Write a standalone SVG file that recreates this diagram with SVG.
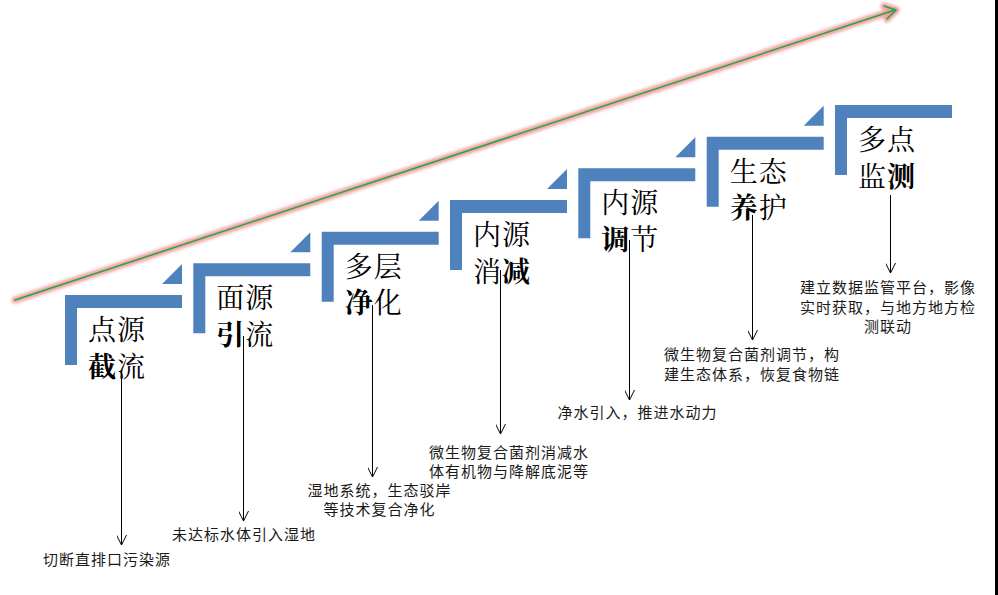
<svg xmlns="http://www.w3.org/2000/svg" xmlns:xlink="http://www.w3.org/1999/xlink" width="998" height="595" viewBox="0 0 998 595">
<style>
.step{fill:#4F81BD}
.big{font-family:"Noto Serif CJK SC","Noto Sans CJK SC",serif;font-size:28px;fill:#000;letter-spacing:1px}
.big .b{font-weight:bold}
.desc{font-family:"Noto Sans CJK SC","Microsoft YaHei",sans-serif;font-size:15px;letter-spacing:1px;fill:#1a1a1a}
.conn{stroke:#000;stroke-width:1;fill:none}
.glow{stroke:#F08C8C;stroke-width:7;fill:none;opacity:0.8;stroke-linecap:round;stroke-linejoin:round}
.green{stroke:#1FA84F;stroke-width:1.5;fill:none;stroke-linecap:round;stroke-linejoin:round}
</style>
<defs>
<filter id="blur" x="-5%" y="-50%" width="110%" height="200%"><feGaussianBlur stdDeviation="1.8"/></filter>
<path id="corner" d="M0,0 H117 V13 H12 V70 H0 Z"/>
<path id="tri" d="M97,-11 H117 V-31 Z"/>
<marker id="ah" viewBox="0 0 10 10" refX="10" refY="5" markerWidth="10" markerHeight="10" markerUnits="userSpaceOnUse" orient="auto">
<path d="M0,0 L10,5 L0,10" fill="none" stroke="#000" stroke-width="1"/>
</marker>
</defs>
<rect width="998" height="595" fill="#fff"/>
<rect x="995" y="0" width="3" height="595" fill="#000"/>

<g id="trend">
<g filter="url(#blur)">
<line class="glow" x1="15" y1="300" x2="895" y2="10"/>
<polyline class="glow" points="884,6 896,10 887,19"/>
</g>
<line class="green" x1="15" y1="300" x2="895" y2="10"/>
<polyline class="green" points="884,6 896,10 887,19"/>
</g>

<g id="step1" transform="translate(65,295)">
<use xlink:href="#corner" class="step"/><use xlink:href="#tri" class="step"/>
<text class="big" x="23" y="45">点源</text>
<text class="big" x="23" y="81.5"><tspan class="b">截</tspan>流</text>
</g>
<g id="step2" transform="translate(193.3,263.3)">
<use xlink:href="#corner" class="step"/><use xlink:href="#tri" class="step"/>
<text class="big" x="23" y="45">面源</text>
<text class="big" x="23" y="81.5"><tspan class="b">引</tspan>流</text>
</g>
<g id="step3" transform="translate(321.7,231.7)">
<use xlink:href="#corner" class="step"/><use xlink:href="#tri" class="step"/>
<text class="big" x="23" y="45">多层</text>
<text class="big" x="23" y="81.5"><tspan class="b">净</tspan>化</text>
</g>
<g id="step4" transform="translate(450,200)">
<use xlink:href="#corner" class="step"/><use xlink:href="#tri" class="step"/>
<text class="big" x="23" y="45">内源</text>
<text class="big" x="23" y="81.5">消<tspan class="b">减</tspan></text>
</g>
<g id="step5" transform="translate(578.3,168.3)">
<use xlink:href="#corner" class="step"/><use xlink:href="#tri" class="step"/>
<text class="big" x="23" y="45">内源</text>
<text class="big" x="23" y="81.5"><tspan class="b">调</tspan>节</text>
</g>
<g id="step6" transform="translate(706.7,136.7)">
<use xlink:href="#corner" class="step"/><use xlink:href="#tri" class="step"/>
<text class="big" x="23" y="45">生态</text>
<text class="big" x="23" y="81.5"><tspan class="b">养</tspan>护</text>
</g>
<g id="step7" transform="translate(835,105)">
<use xlink:href="#corner" class="step"/>
<text class="big" x="23" y="45">多点</text>
<text class="big" x="23" y="81.5">监<tspan class="b">测</tspan></text>
</g>

<g id="connectors">
<line class="conn" x1="121.5" y1="370" x2="121.5" y2="545" marker-end="url(#ah)"/>
<line class="conn" x1="243.5" y1="336" x2="243.5" y2="521" marker-end="url(#ah)"/>
<line class="conn" x1="372.5" y1="305" x2="372.5" y2="477" marker-end="url(#ah)"/>
<line class="conn" x1="500.5" y1="270" x2="500.5" y2="434" marker-end="url(#ah)"/>
<line class="conn" x1="629.5" y1="240" x2="629.5" y2="400" marker-end="url(#ah)"/>
<line class="conn" x1="752.5" y1="215" x2="752.5" y2="340" marker-end="url(#ah)"/>
<line class="conn" x1="890.5" y1="195" x2="890.5" y2="273" marker-end="url(#ah)"/>
</g>

<g id="descriptions">
<text class="desc" x="43" y="565">切断直排口污染源</text>
<text class="desc" x="244" y="540" text-anchor="middle">未达标水体引入湿地</text>
<text class="desc" x="379.5" y="496" text-anchor="middle">湿地系统，生态驳岸</text>
<text class="desc" x="379.5" y="515" text-anchor="middle">等技术复合净化</text>
<text class="desc" x="509" y="457.5" text-anchor="middle">微生物复合菌剂消减水</text>
<text class="desc" x="509" y="476.5" text-anchor="middle">体有机物与降解底泥等</text>
<text class="desc" x="637.5" y="418" text-anchor="middle">净水引入，推进水动力</text>
<text class="desc" x="752" y="360" text-anchor="middle">微生物复合菌剂调节，构</text>
<text class="desc" x="752" y="380" text-anchor="middle">建生态体系，恢复食物链</text>
<text class="desc" x="888" y="293" text-anchor="middle">建立数据监管平台，影像</text>
<text class="desc" x="888" y="312.5" text-anchor="middle">实时获取，与地方地方检</text>
<text class="desc" x="888" y="331.5" text-anchor="middle">测联动</text>
</g>
</svg>
